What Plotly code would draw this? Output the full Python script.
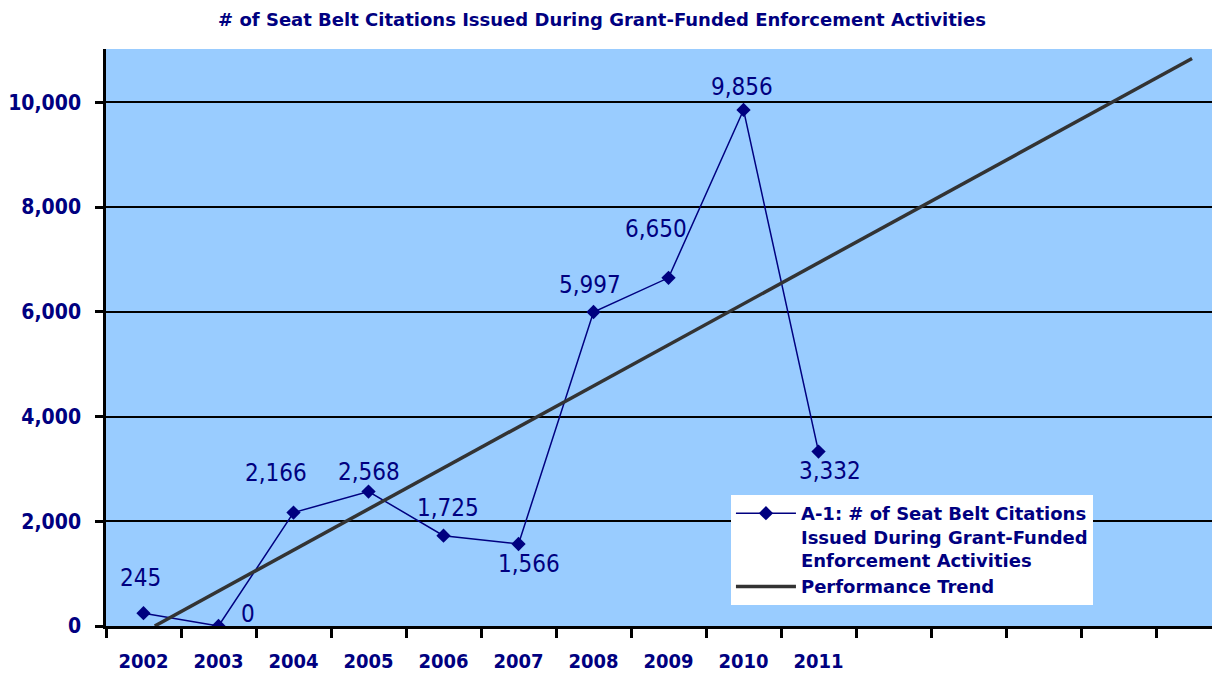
import plotly.graph_objects as go

# ---- data ----
years = ["2002", "2003", "2004", "2005", "2006", "2007", "2008", "2009", "2010", "2011"]
citations = [245, 0, 2166, 2568, 1725, 1566, 5997, 6650, 9856, 3332]
# Performance trend line (straight line read at its two ends, in category units)
trend_x = [0.15, 13.98]
trend_y = [0, 10840]
y_ticks = [0, 2000, 4000, 6000, 8000, 10000]

# ---- style ----
NAVY = "#000080"
BG = "#99CCFF"
label_offsets = [(-3, 35), (29, 12), (-18, 40), (0, 20), (4, 28),
                 (10, -20), (-4, 27), (-13, 49), (-2, 23), (11, -19)]

x_idx = list(range(len(years)))

# page body has an 8px default margin -> figure is 8px smaller and shifted
W, H = 1212, 666

fig = go.Figure()
fig.add_trace(go.Scatter(
    x=x_idx, y=citations, mode="lines+markers",
    name="A-1: # of Seat Belt Citations<br>Issued During Grant-Funded<br>Enforcement Activities",
    line=dict(color=NAVY, width=1.5),
    marker=dict(symbol="diamond", size=11, color=NAVY),
))
fig.add_trace(go.Scatter(
    x=trend_x, y=trend_y, mode="lines", name="Performance Trend",
    line=dict(color="#333333", width=3.5),
))

for xi, v, (dx, dy) in zip(x_idx, citations, label_offsets):
    fig.add_annotation(
        x=xi, y=v, text=f"{v:,}", showarrow=False,
        xshift=dx, yshift=dy,
        font=dict(family="DejaVu Sans Condensed, DejaVu Sans", size=24, color=NAVY),
    )

fig.update_layout(
    width=W, height=H,
    margin=dict(l=98, r=0, t=41, b=48, autoexpand=False),
    paper_bgcolor="white", plot_bgcolor=BG,
    title=dict(
        text="# of Seat Belt Citations Issued During Grant-Funded Enforcement Activities",
        x=594 / W, xanchor="center", y=1 - 12 / H, yanchor="middle",
        font=dict(family="DejaVu Sans", size=18, color=NAVY, weight="bold"),
    ),
    showlegend=True,
    legend=dict(
        x=0.561, y=0.227, xanchor="left", yanchor="top",
        bgcolor="white", borderwidth=0, valign="top",
        font=dict(family="DejaVu Sans", size=18, color=NAVY, weight="bold"),
        itemwidth=60, tracegroupgap=0,
    ),
    xaxis=dict(
        range=[-0.5, 14.353], tickmode="array", tickvals=x_idx, ticktext=years,
        ticks="", showgrid=False, zeroline=False, automargin=False,
        showline=True, linecolor="black", linewidth=2.5,
        ticklabelstandoff=15,
        tickfont=dict(family="DejaVu Sans Condensed, DejaVu Sans", size=20, color=NAVY, weight="bold"),
        minor=dict(tick0=-0.5, dtick=1, ticks="outside", ticklen=9, tickwidth=2.5,
                   tickcolor="black", showgrid=False),
    ),
    yaxis=dict(
        range=[0, 11020], tickmode="array", tickvals=y_ticks, automargin=False,
        tickformat=",", ticks="outside", ticklen=8, tickwidth=2.5, tickcolor="black",
        showgrid=True, gridcolor="black", gridwidth=2,
        zeroline=False, showline=True, linecolor="black", linewidth=2.5,
        ticklabelstandoff=10,
        tickfont=dict(family="DejaVu Sans Condensed, DejaVu Sans", size=21, color=NAVY, weight="bold"),
    ),
)

fig.write_html("out.html")
